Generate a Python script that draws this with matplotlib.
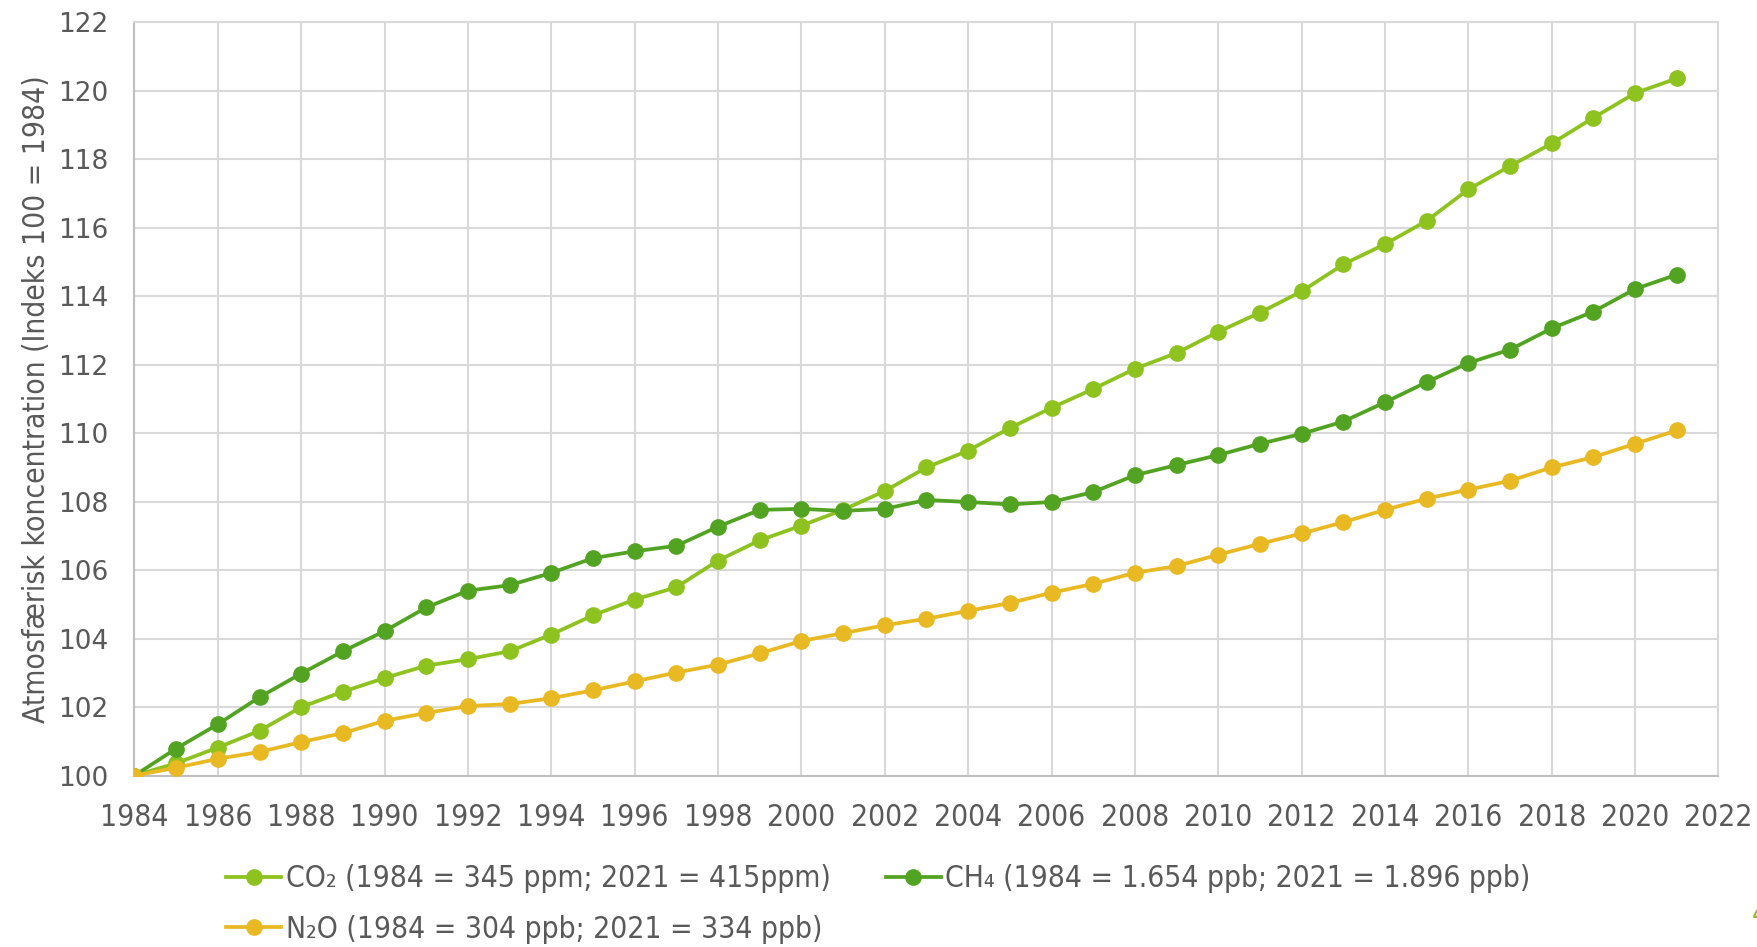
import matplotlib
matplotlib.use('Agg')
import matplotlib.pyplot as plt
from matplotlib import font_manager

years = list(range(1984, 2022))

co2 = [100.0, 100.36, 100.82, 101.31, 102.0, 102.45, 102.85, 103.21, 103.4, 103.63,
       104.12, 104.68, 105.14, 105.5, 106.28, 106.87, 107.3, 107.76, 108.31, 109.0,
       109.49, 110.15, 110.74, 111.29, 111.88, 112.34, 112.96, 113.52, 114.14, 114.93,
       115.52, 116.2, 117.12, 117.8, 118.46, 119.21, 119.93, 120.36]

ch4 = [100.0, 100.79, 101.5, 102.29, 102.98, 103.63, 104.22, 104.91, 105.4, 105.56,
       105.92, 106.35, 106.55, 106.71, 107.27, 107.76, 107.79, 107.73, 107.79, 108.05,
       107.99, 107.92, 107.99, 108.28, 108.77, 109.07, 109.36, 109.69, 109.98, 110.34,
       110.9, 111.49, 112.05, 112.44, 113.06, 113.55, 114.21, 114.63]

n2o = [100.0, 100.23, 100.49, 100.69, 100.98, 101.24, 101.6, 101.83, 102.03, 102.09,
       102.26, 102.49, 102.75, 103.01, 103.24, 103.57, 103.93, 104.16, 104.39, 104.58,
       104.81, 105.04, 105.34, 105.6, 105.92, 106.12, 106.45, 106.77, 107.07, 107.4,
       107.76, 108.09, 108.35, 108.61, 109.0, 109.3, 109.69, 110.08]

labels = ["CO\u2082 (1984 = 345 ppm; 2021 = 415ppm)",
          "CH\u2084 (1984 = 1.654 ppb; 2021 = 1.896 ppb)",
          "N\u2082O (1984 = 304 ppb; 2021 = 334 ppb)"]

x_ticks = list(range(1984, 2023, 2))
y_ticks = list(range(100, 123, 2))

text_color = "#595959"

# narrow font for axis/legend text: condensed DejaVu if it is there, else Roboto
has_condensed = any(f.name == 'DejaVu Sans' and f.stretch == 'condensed'
                    for f in font_manager.fontManager.ttflist)
if has_condensed:
    narrow = font_manager.FontProperties(family='DejaVu Sans', stretch='condensed', size=21.5)
else:
    narrow = font_manager.FontProperties(family=['Roboto', 'DejaVu Sans'], size=20.5)

fig = plt.figure(figsize=(17.58, 9.47), dpi=100)
ax = fig.add_axes([0.0765, 0.181, 0.901, 0.7955])

style = dict(lw=2.7, marker="o", markersize=11, zorder=3)
l_co2, = ax.plot(years, co2, color="#8DC21F", label=labels[0], **style)
l_ch4, = ax.plot(years, ch4, color="#52A322", label=labels[1], **style)
l_n2o, = ax.plot(years, n2o, color="#E8B923", label=labels[2], **style)

ax.set_xlim(1984, 2022)
ax.set_ylim(100, 122)
ax.set_xticks(x_ticks)
ax.set_yticks(y_ticks)
ax.grid(True, color="#D9D9D9", lw=1.5)
ax.set_axisbelow(True)
for side in ["top", "right"]:
    ax.spines[side].set_color("#D9D9D9")
    ax.spines[side].set_linewidth(1.5)
for side in ["left", "bottom"]:
    ax.spines[side].set_color("#BFBFBF")
    ax.spines[side].set_linewidth(1.5)
ax.tick_params(axis='x', length=0, pad=20)
ax.tick_params(axis='y', length=0, pad=19)

for lab in ax.get_xticklabels():
    lab.set_fontproperties(narrow)
    lab.set_color(text_color)
for lab in ax.get_yticklabels():
    lab.set_family('DejaVu Sans')
    lab.set_fontsize(19)
    lab.set_color(text_color)

ax.set_ylabel("Atmosfærisk koncentration (Indeks 100 = 1984)", fontproperties=narrow,
              color=text_color, labelpad=5)

leg = fig.legend([l_co2, l_n2o, l_ch4], [labels[0], labels[2], labels[1]],
                 ncol=2, loc="upper left", bbox_to_anchor=(0.12, 0.103),
                 frameon=False, handlelength=1.85, handletextpad=0.15,
                 columnspacing=1.85, labelspacing=0.72, prop=narrow,
                 borderpad=0)
for t in leg.get_texts():
    t.set_color(text_color)

fig.text(0.9965, 0.025, "4", color="#8DC21F", fontproperties=narrow)

plt.savefig("out.png", dpi=100)
